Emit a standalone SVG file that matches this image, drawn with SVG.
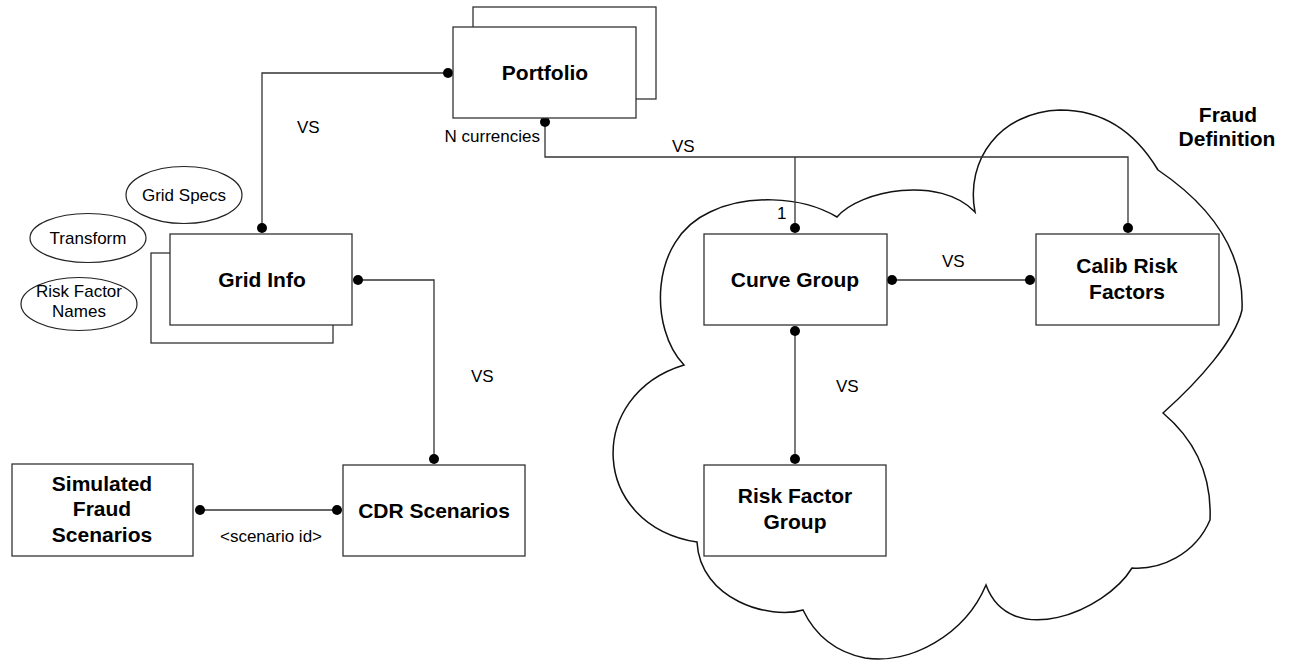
<svg xmlns="http://www.w3.org/2000/svg" width="1291" height="660" viewBox="0 0 1291 660">
<style>
.box{fill:#fff;stroke:#333;stroke-width:1.3}
.ell{fill:#fff;stroke:#222;stroke-width:1.2}
.cloud{fill:#fff;stroke:#111;stroke-width:1.5}
.ln{fill:none;stroke:#333;stroke-width:1.3}
.dot{fill:#000}
.b{font-family:"Liberation Sans",Arial,sans-serif;font-weight:bold;font-size:21px;fill:#000;text-anchor:middle}
.r{font-family:"Liberation Sans",Arial,sans-serif;font-size:17px;fill:#000}
.c{text-anchor:middle}
</style>
<rect width="1291" height="660" fill="#fff"/>
<g id="fraud-definition">
<path class="cloud" d="M684,365 C650,330 648,240 710,212 C745,195 800,195 837,217 C860,190 940,175 975,212 C965,160 1000,112 1060,110 C1110,110 1140,140 1158,170 C1195,195 1245,240 1242,310 C1235,340 1200,380 1163,413 C1195,440 1212,475 1210,520 C1195,555 1160,570 1132,568 C1105,612 1010,650 986,585 C965,635 910,665 865,658 C835,652 815,635 803,610 C770,620 700,600 697,542 C590,525 585,395 684,365 Z"/>
<text class="b" x="1228" y="122">Fraud</text>
<text class="b" x="1227" y="146">Definition</text>
</g>
<g id="connectors">
<path class="ln" d="M448,73 H262 V228"/>
<path class="ln" d="M545,122 V157 H1128 V227"/>
<path class="ln" d="M795,157 V228"/>
<path class="ln" d="M892,280 H1030"/>
<path class="ln" d="M795,331 V459"/>
<path class="ln" d="M358,280 H434 V459"/>
<path class="ln" d="M200,510 H337"/>
<circle class="dot" cx="448" cy="73" r="5"/>
<circle class="dot" cx="262" cy="228" r="5"/>
<circle class="dot" cx="545" cy="122" r="5"/>
<circle class="dot" cx="795" cy="228" r="5"/>
<circle class="dot" cx="1128" cy="228" r="5"/>
<circle class="dot" cx="892" cy="280" r="5"/>
<circle class="dot" cx="1030" cy="280" r="5"/>
<circle class="dot" cx="795" cy="331" r="5"/>
<circle class="dot" cx="795" cy="459" r="5"/>
<circle class="dot" cx="358" cy="280" r="5"/>
<circle class="dot" cx="434" cy="459" r="5"/>
<circle class="dot" cx="200" cy="510" r="5"/>
<circle class="dot" cx="337" cy="510" r="5"/>
<text class="r" x="297" y="133">VS</text>
<text class="r" x="540" y="142" text-anchor="end">N currencies</text>
<text class="r" x="672" y="152">VS</text>
<text class="r" x="777" y="219">1</text>
<text class="r" x="942" y="267">VS</text>
<text class="r" x="836" y="392">VS</text>
<text class="r" x="471" y="382">VS</text>
<text class="r c" x="271" y="542">&lt;scenario id&gt;</text>
</g>
<g id="portfolio">
<rect class="box" x="473" y="7" width="183" height="92"/>
<rect class="box" x="453" y="27" width="183" height="91"/>
<text class="b" x="545" y="80">Portfolio</text>
</g>
<g id="grid-specs">
<ellipse class="ell" cx="184" cy="195" rx="58" ry="28.5"/>
<text class="r c" x="184" y="201">Grid Specs</text>
</g>
<g id="transform">
<ellipse class="ell" cx="88" cy="238" rx="58" ry="24.5"/>
<text class="r c" x="88" y="244">Transform</text>
</g>
<g id="risk-factor-names">
<ellipse class="ell" cx="79" cy="304" rx="58" ry="26.5"/>
<text class="r c" x="79" y="297">Risk Factor</text>
<text class="r c" x="79" y="317">Names</text>
</g>
<g id="grid-info">
<rect class="box" x="151" y="253" width="182" height="90"/>
<rect class="box" x="170" y="234" width="182" height="91"/>
<text class="b" x="262" y="287">Grid Info</text>
</g>
<g id="curve-group">
<rect class="box" x="704" y="234" width="183" height="91"/>
<text class="b" x="795" y="287">Curve Group</text>
</g>
<g id="calib-risk-factors">
<rect class="box" x="1036" y="234" width="183" height="91"/>
<text class="b" x="1127" y="273">Calib Risk</text>
<text class="b" x="1127" y="299">Factors</text>
</g>
<g id="risk-factor-group">
<rect class="box" x="704" y="465" width="182" height="91"/>
<text class="b" x="795" y="503">Risk Factor</text>
<text class="b" x="795" y="529">Group</text>
</g>
<g id="cdr-scenarios">
<rect class="box" x="343" y="465" width="182" height="91"/>
<text class="b" x="434" y="518">CDR Scenarios</text>
</g>
<g id="simulated-fraud-scenarios">
<rect class="box" x="12" y="464" width="181" height="92"/>
<text class="b" x="102" y="491">Simulated</text>
<text class="b" x="102" y="516">Fraud</text>
<text class="b" x="102" y="542">Scenarios</text>
</g>
</svg>
